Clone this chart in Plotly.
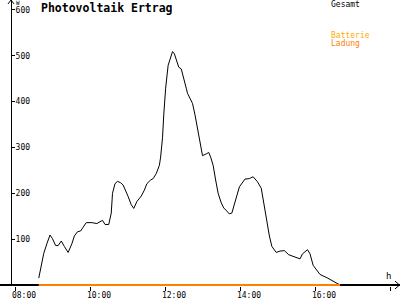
import plotly.graph_objects as go

DAY = "2024-06-01 "

# Gesamt (W) readings, time of day
gesamt_times = ["08:38", "08:46", "08:51", "08:56", "09:00", "09:05", "09:09", "09:14", "09:19", "09:25",
                "09:31", "09:35", "09:40", "09:45", "09:49", "09:54", "10:03", "10:11", "10:20", "10:24",
                "10:30", "10:34", "10:36", "10:40", "10:44", "10:49", "10:53", "10:57", "11:01", "11:06",
                "11:10", "11:15", "11:22", "11:27", "11:31", "11:37", "11:41", "11:46", "11:51", "11:53",
                "11:56", "11:58", "12:01", "12:05", "12:09", "12:12", "12:15", "12:19", "12:22", "12:26",
                "12:29", "12:34", "12:36", "12:40", "12:44", "12:48", "12:52", "12:56", "13:00", "13:06",
                "13:10", "13:13", "13:17", "13:21", "13:25", "13:30", "13:34", "13:39", "13:43", "13:47",
                "13:50", "13:55", "13:59", "14:08", "14:15", "14:21", "14:28", "14:34", "14:37", "14:43",
                "14:47", "14:51", "14:58", "15:04", "15:11", "15:18", "15:27", "15:36", "15:40", "15:48",
                "15:52", "15:57", "16:08", "16:19", "16:40"]
gesamt_values = [15, 69, 90, 109, 101, 86, 86, 96, 84, 71,
                 90, 107, 116, 118, 126, 136, 136, 134, 141, 132,
                 132, 157, 200, 221, 226, 223, 218, 207, 193, 175,
                 167, 182, 194, 207, 221, 229, 232, 243, 261, 279,
                 321, 371, 429, 479, 497, 509, 504, 489, 475, 471,
                 457, 429, 418, 407, 396, 371, 339, 307, 282, 286,
                 289, 279, 261, 229, 200, 179, 168, 161, 155, 157,
                 171, 193, 214, 231, 232, 236, 225, 211, 186, 136,
                 107, 84, 71, 74, 75, 66, 62, 57, 68, 77,
                 68, 43, 23, 16, 0]

# Ladung (battery charge) readings
ladung_times = ["08:38", "16:40"]
ladung_values = [0, 0]

# Batterie has no visible readings
batterie_times = []
batterie_values = []

y_tick_vals = [100, 200, 300, 400, 500, 600]
y_tick_text = ["100", "200", "300", "400", "500", "600"]
x_tick_times = ["08:00", "10:00", "12:00", "14:00", "16:00", "18:00"]

BLACK = "#000000"
ORANGE = "#FF8000"
AMBER = "#FFAA00"
FONT = "DejaVu Sans Mono"

fig = go.Figure()
fig.add_trace(go.Scatter(x=[DAY + t for t in gesamt_times], y=gesamt_values, mode="lines",
                         line=dict(color=BLACK, width=1), name="Gesamt"))
fig.add_trace(go.Scatter(x=[DAY + t for t in batterie_times], y=batterie_values, mode="lines",
                         line=dict(color=AMBER, width=1), name="Batterie"))
fig.add_trace(go.Scatter(x=[DAY + t for t in ladung_times], y=ladung_values, mode="lines",
                         line=dict(color=ORANGE, width=2), name="Ladung"))

W, H = 400, 300
plot_h = 291          # plot area bottom (pixels from top)
zero_px = 290         # pixel row of value 0
y_unit = 280 / 600    # pixels per W

fig.update_layout(
    width=W, height=H,
    margin=dict(l=0, r=0, t=0, b=H - plot_h),
    paper_bgcolor="white", plot_bgcolor="white",
    showlegend=False,
    font=dict(family=FONT, size=8, color=BLACK),
    xaxis=dict(
        type="date",
        range=[DAY + "07:36", DAY + "18:16"],
        tickvals=[DAY + t for t in x_tick_times],
        ticktext=x_tick_times,
        showgrid=False, zeroline=False,
        showline=False,
        ticks="outside", ticklen=4, tickcolor=BLACK,
        ticklabelshift=9, ticklabelstandoff=-3,
        tickfont=dict(family=FONT, size=8, color=BLACK),
    ),
    yaxis=dict(
        range=[-(plot_h - zero_px) / y_unit, zero_px / y_unit],
        tickvals=y_tick_vals, ticktext=y_tick_text,
        showgrid=False,
        zeroline=True, zerolinecolor=BLACK, zerolinewidth=2,
        anchor="free", position=11 / W, side="right",
        showline=True, linecolor=BLACK, linewidth=1,
        ticks="outside", ticklen=3, tickcolor=BLACK,
        ticklabelstandoff=-1,
        tickfont=dict(family=FONT, size=8, color=BLACK),
    ),
)

def px_x(p):
    return p / W

def px_y(p):
    return (plot_h - p) / plot_h

ann = [
    dict(text="<b>Photovoltaik Ertrag</b>", x=px_x(39), y=px_y(8), font=dict(size=11.5, color=BLACK)),
    dict(text="Gesamt", x=px_x(329), y=px_y(4.5), font=dict(size=8, color=BLACK)),
    dict(text="Batterie", x=px_x(329), y=px_y(36), font=dict(size=8, color=AMBER)),
    dict(text="Ladung", x=px_x(329), y=px_y(44), font=dict(size=8, color=ORANGE)),
    dict(text="W", x=px_x(14), y=px_y(2.5), font=dict(size=6, color=BLACK)),
    dict(text="h", x=px_x(384), y=px_y(281), font=dict(size=9, color=BLACK)),
]
for a in ann:
    fig.add_annotation(xref="paper", yref="paper", xanchor="left", yanchor="middle",
                       showarrow=False, font_family=FONT, **{k: v for k, v in a.items()})

# axis arrow heads
fig.add_shape(type="path", xref="paper", yref="paper",
              path=f"M {px_x(8)} {px_y(4)} L {px_x(11)} {px_y(0)} L {px_x(14)} {px_y(4)}",
              line=dict(color=BLACK, width=1))
fig.add_shape(type="path", xref="paper", yref="paper",
              path=f"M {px_x(395)} {px_y(zero_px - 4)} L {px_x(399.5)} {px_y(zero_px)} L {px_x(395)} {px_y(zero_px + 4)}",
              line=dict(color=BLACK, width=1))

fig.write_html("out.html")
